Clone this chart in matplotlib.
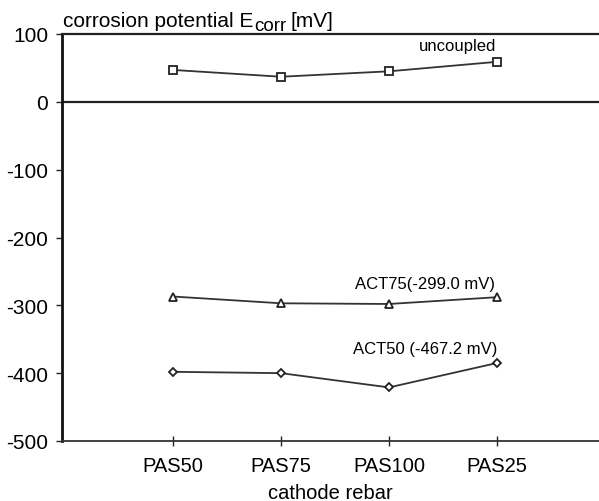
import matplotlib
matplotlib.use("Agg")
import matplotlib.pyplot as plt

plt.rcParams['font.family'] = ['Liberation Sans', 'DejaVu Sans']

categories = ["PAS50", "PAS75", "PAS100", "PAS25"]
uncoupled = [47, 37, 45, 59]
act75 = [-287, -297, -298, -288]
act50 = [-398, -400, -421, -385]
yticks = [100, 0, -100, -200, -300, -400, -500]

fig = plt.figure(figsize=(5.99, 5.02), dpi=100)
ax = fig.add_axes([62/599, 1-442/502, 1-62/599, (442-35)/502])

x = list(range(1, len(categories)+1))
lc = '#333333'
ax.plot(x, uncoupled, color=lc, lw=1.3, marker='s', ms=5.5, mfc='white', mec='#222222', mew=1.3)
ax.plot(x, act75, color=lc, lw=1.3, marker='^', ms=6, mfc='white', mec='#222222', mew=1.3)
ax.plot(x, act50, color=lc, lw=1.3, marker='D', ms=4.5, mfc='white', mec='#222222', mew=1.3)

ax.axhline(0, color='#222222', lw=1.6)

ax.set_xlim(-0.028, 4.944)
ax.set_ylim(-500, 100)
ax.set_xticks(x)
ax.set_xticklabels(categories, fontsize=14.5)
ax.set_yticks(yticks)
ax.set_yticklabels([str(v) for v in yticks], fontsize=15)
ax.tick_params(axis='x', direction='inout', length=7, width=1, pad=7, color='#222222')
ax.tick_params(axis='y', direction='out', length=4, width=1, pad=6, color='#222222')

ax.spines['right'].set_visible(False)
ax.spines['top'].set_linewidth(1.6)
ax.spines['top'].set_color('#222222')
ax.spines['left'].set_linewidth(2.0)
ax.spines['left'].set_color('#111111')
ax.spines['bottom'].set_linewidth(1.3)
ax.spines['bottom'].set_color('#333333')

ax.set_xlabel("cathode rebar", fontsize=14.5, labelpad=6)

# title-like y label built from pieces: main text, subscript, rest
renderer = fig.canvas.get_renderer()
t1 = fig.text(63/599, 1-27/502, "corrosion potential E", fontsize=15, ha='left', va='baseline')
bb = t1.get_window_extent(renderer)
t2 = fig.text((bb.x1 + 1)/599, 1-31/502, "corr", fontsize=13.5, ha='left', va='baseline')
bb2 = t2.get_window_extent(renderer)
fig.text((bb2.x1 + 4)/599, 1-27/502, "[mV]", fontsize=15, ha='left', va='baseline')

ax.text(3.63, 83, "uncoupled", fontsize=12, ha='center', va='center')
ax.text(3.98, -268, "ACT75(-299.0 mV)", fontsize=12, ha='right', va='center')
ax.text(4.0, -364, "ACT50 (-467.2 mV)", fontsize=12, ha='right', va='center')

fig.savefig("out.png", dpi=100)
